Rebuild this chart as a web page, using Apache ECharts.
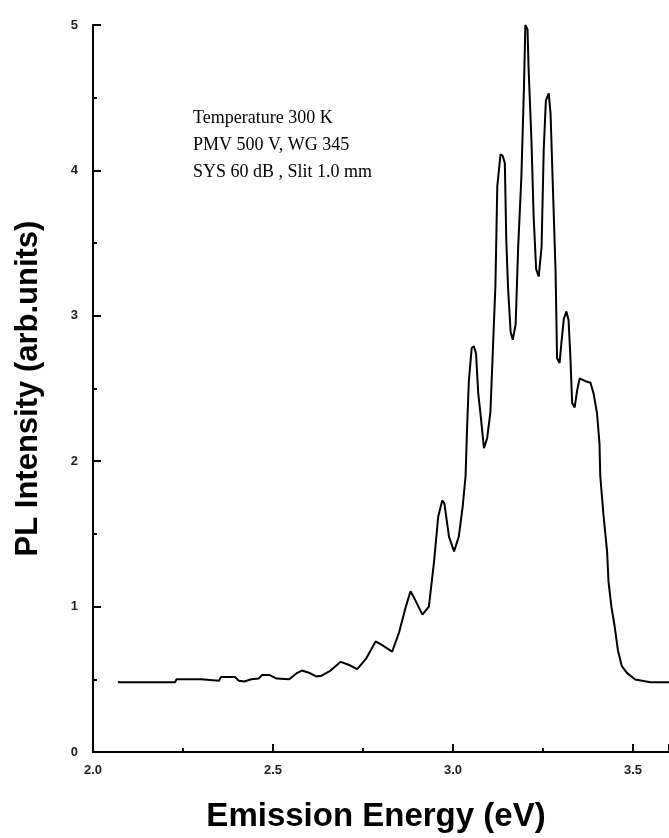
<!DOCTYPE html>
<html>
<head>
<meta charset="utf-8">
<script src="https://cdn.jsdelivr.net/npm/echarts@6/dist/echarts.min.js"></script>
<style>
html,body{margin:0;padding:0;background:#fff;}
#chart{width:669px;height:838px;}
</style>
</head>
<body>
<div id="chart"></div>
<script>
// Emission energy (eV)
const energy = [
  2.069, 2.10, 2.15, 2.20, 2.228, 2.232, 2.30, 2.305, 2.35, 2.355, 2.395, 2.405, 2.42, 2.44, 2.46, 2.47,
  2.49, 2.51, 2.545, 2.565, 2.58, 2.60, 2.62, 2.635, 2.66, 2.688, 2.71, 2.734, 2.758, 2.785, 2.80, 2.831,
  2.85, 2.869, 2.882, 2.89, 2.915, 2.933, 2.947, 2.959, 2.970, 2.976, 2.989, 3.003, 3.016, 3.027, 3.035,
  3.039, 3.044, 3.052, 3.058, 3.064, 3.070, 3.077, 3.086, 3.095, 3.104, 3.111, 3.118, 3.123, 3.132, 3.138,
  3.144, 3.148, 3.153, 3.160, 3.166, 3.174, 3.181, 3.190, 3.197, 3.201, 3.207, 3.210, 3.218, 3.224, 3.231,
  3.238, 3.246, 3.252, 3.258, 3.266, 3.271, 3.277, 3.285, 3.289, 3.296, 3.301, 3.308, 3.315, 3.321, 3.326,
  3.331, 3.338, 3.345, 3.352, 3.368, 3.382, 3.391, 3.400, 3.407, 3.409, 3.418, 3.428, 3.432, 3.440, 3.449,
  3.458, 3.469, 3.483, 3.506, 3.548, 3.600
];
// PL intensity (arb. units)
const intensity = [
  0.48, 0.48, 0.48, 0.48, 0.48, 0.50, 0.50, 0.49, 0.49, 0.515, 0.515, 0.49, 0.485, 0.50, 0.505, 0.53,
  0.53, 0.505, 0.50, 0.54, 0.56, 0.545, 0.52, 0.525, 0.56, 0.62, 0.60, 0.57, 0.64, 0.76, 0.74, 0.69,
  0.82, 1.00, 1.105, 1.07, 0.945, 1.00, 1.30, 1.62, 1.73, 1.71, 1.48, 1.38, 1.48, 1.69, 1.90,
  2.22, 2.55, 2.78, 2.79, 2.74, 2.47, 2.31, 2.09, 2.16, 2.34, 2.78, 3.22, 3.89, 4.11, 4.10,
  4.05, 3.52, 3.19, 2.89, 2.835, 2.94, 3.47, 3.96, 4.56, 5.00, 4.97, 4.70, 4.20, 3.68, 3.32,
  3.27, 3.47, 4.14, 4.48, 4.53, 4.39, 3.92, 3.30, 2.71, 2.675, 2.81, 2.98, 3.03, 2.97, 2.72,
  2.40, 2.37, 2.49, 2.57, 2.55, 2.54, 2.46, 2.33, 2.12, 1.90, 1.63, 1.38, 1.17, 1.00, 0.865,
  0.70, 0.59, 0.544, 0.498, 0.48, 0.48
];
const annotationLines = ['Temperature 300 K', 'PMV 500 V, WG 345', 'SYS 60 dB , Slit 1.0 mm'];
const xTitle = 'Emission Energy (eV)';
const yTitle = 'PL Intensity (arb.units)';

const chart = echarts.init(document.getElementById('chart'), null, {renderer: 'canvas'});
const data = energy.map((e, i) => [e, intensity[i]]);
const labelStyle = {color: '#222', fontSize: 13, fontWeight: 'bold', fontFamily: 'Liberation Sans'};

chart.setOption({
  animation: false,
  backgroundColor: '#fff',
  grid: {left: 93, top: 25, width: 577, height: 727, containLabel: false},
  xAxis: {
    type: 'value', min: 2.0, max: 3.6, interval: 0.5,
    name: xTitle, nameLocation: 'middle', nameGap: 48,
    nameTextStyle: {fontSize: 33, fontWeight: 'bold', fontFamily: 'Liberation Sans', color: '#000', padding: [0, 10, 0, 0]},
    axisLine: {show: true, onZero: false, lineStyle: {color: '#000', width: 2}},
    axisTick: {show: true, inside: true, length: 8, lineStyle: {color: '#000', width: 2}},
    minorTick: {show: true, splitNumber: 2, length: 4, lineStyle: {color: '#000', width: 2}},
    axisLabel: Object.assign({margin: 12, formatter: v => v.toFixed(1), showMaxLabel: false}, labelStyle),
    splitLine: {show: false}
  },
  yAxis: {
    type: 'value', min: 0, max: 5, interval: 1,
    name: yTitle, nameLocation: 'middle', nameGap: 49, nameRotate: 90,
    nameTextStyle: {fontSize: 31, fontWeight: 'bold', fontFamily: 'Liberation Sans', color: '#000'},
    axisLine: {show: true, onZero: false, lineStyle: {color: '#000', width: 2}},
    axisTick: {show: true, inside: true, length: 8, lineStyle: {color: '#000', width: 2}},
    minorTick: {show: true, splitNumber: 2, length: 4, lineStyle: {color: '#000', width: 2}},
    axisLabel: Object.assign({margin: 15}, labelStyle),
    splitLine: {show: false}
  },
  graphic: annotationLines.map((t, i) => ({
    type: 'text', left: 193, top: 109 + i * 27,
    style: {text: t, fill: '#000', font: '18px "Liberation Serif"'}
  })),
  series: [{
    type: 'line', data: data, showSymbol: false, smooth: false,
    lineStyle: {color: '#000', width: 2}
  }]
});
</script>
</body>
</html>
